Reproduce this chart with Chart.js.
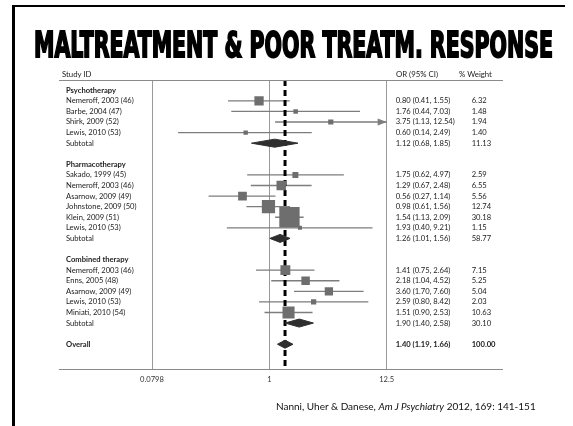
<!DOCTYPE html>
<html>
<head>
<meta charset="utf-8">
<script src="https://cdn.jsdelivr.net/npm/chart.js@4.4.1/dist/chart.umd.min.js"></script>
<style>
html,body{margin:0;padding:0;background:#fff;}
#wrap{position:relative;width:573px;height:426px;overflow:hidden;font-family:Lato,sans-serif;color:#222;}
#frameTop{position:absolute;left:12px;top:5px;width:553px;height:2px;background:#000;}
#frameLeft{position:absolute;left:12px;top:5px;width:3px;height:421px;background:#000;}
#title{position:absolute;left:34px;top:27px;font:bold 36px/36px 'DejaVu Sans Condensed',sans-serif;white-space:nowrap;transform-origin:0 0;-webkit-text-stroke:1.9px #000;color:#000;}
.hdr{position:absolute;top:69px;font-size:7.8px;line-height:10px;white-space:nowrap;}
#cite{position:absolute;left:276px;top:400px;font-size:10px;line-height:13px;white-space:nowrap;color:#111;}
canvas{position:absolute;left:0;top:0;}
</style>
</head>
<body>
<div id="wrap">
  <canvas id="forest" width="573" height="426"></canvas>
  <div id="frameTop"></div>
  <div id="frameLeft"></div>
  <div id="title">MALTREATMENT &amp; POOR TREATM. RESPONSE</div>
  <div class="hdr" style="left:62px">Study ID</div>
  <div class="hdr" style="left:396px">OR (95% CI)</div>
  <div class="hdr" style="left:459px">% Weight</div>
  <div id="cite">Nanni, Uher &amp; Danese, <i>Am J Psychiatry</i> 2012, 169: 141-151</div>
</div>
<script>
// rows of the forest plot, top to bottom
const rowLabels = [
  'Psychotherapy','Nemeroff, 2003 (46)','Barbe, 2004 (47)','Shirk, 2009 (52)','Lewis, 2010 (53)','Subtotal','',
  'Pharmacotherapy','Sakado, 1999 (45)','Nemeroff, 2003 (46)','Asarnow, 2009 (49)','Johnstone, 2009 (50)','Klein, 2009 (51)','Lewis, 2010 (53)','Subtotal','',
  'Combined therapy','Nemeroff, 2003 (46)','Enns, 2005 (48)','Asarnow, 2009 (49)','Lewis, 2010 (53)','Miniati, 2010 (54)','Subtotal','',
  'Overall'
];
const rowKind = [
  'group','study','study','study','study','sub','blank',
  'group','study','study','study','study','study','study','sub','blank',
  'group','study','study','study','study','study','sub','blank',
  'overall'
];
const orVal  = [null,0.80,1.76,3.75,0.60,1.12,null, null,1.75,1.29,0.56,0.98,1.54,1.93,1.26,null, null,1.41,2.18,3.60,2.59,1.51,1.90,null, 1.40];
const ciLow  = [null,0.41,0.44,1.13,0.14,0.68,null, null,0.62,0.67,0.27,0.61,1.13,0.40,1.01,null, null,0.75,1.04,1.70,0.80,0.90,1.40,null, 1.19];
const ciHigh = [null,1.55,7.03,12.54,2.49,1.85,null, null,4.97,2.48,1.14,1.56,2.09,9.21,1.56,null, null,2.64,4.52,7.60,8.42,2.53,2.58,null, 1.66];
const weights= [null,6.32,1.48,1.94,1.40,11.13,null, null,2.59,6.55,5.56,12.74,30.18,1.15,58.77,null, null,7.15,5.25,5.04,2.03,10.63,30.10,null, 100.00];
const xTicks = [0.0798, 1, 12.5];

const X_MIN = xTicks[0], X_MAX = xTicks[xTicks.length-1];
const Y_MIN = -0.97, Y_MAX = 26.37;
const FONT = 'Lato';

const rows = rowLabels.map((_, i) => i);
const studyIdx = rows.filter(i => rowKind[i] === 'study');
const pooledIdx = rows.filter(i => rowKind[i] === 'sub' || rowKind[i] === 'overall');
const overallIdx = rowKind.indexOf('overall');
const isBoldLabel = i => rowKind[i] === 'group' || rowKind[i] === 'overall';

// CI whiskers as one broken line
const ciData = [];
studyIdx.forEach(i => {
  ciData.push({x: ciLow[i], y: i}, {x: ciHigh[i], y: i}, {x: null, y: null});
});

const DIAMOND_H = 0.38;
const diamondSets = pooledIdx.map(i => ({
  type: 'line',
  data: [
    {x: ciLow[i], y: i}, {x: orVal[i], y: i - DIAMOND_H},
    {x: ciHigh[i], y: i}, {x: orVal[i], y: i + DIAMOND_H}, {x: ciLow[i], y: i}
  ],
  borderColor: '#2e2e2e', borderWidth: 1, backgroundColor: '#2e2e2e',
  fill: 'shape', pointRadius: 0, tension: 0, order: 1
}));

const rowTicks = s => { s.ticks = rows.map(v => ({value: v})); };
const tickFont = bold => ({family: FONT, size: 7.6, weight: bold ? 'bold' : 'normal'});

// arrows for CIs running past the axis, plus the header/bottom rules
const extras = {
  id: 'extras',
  afterDatasetsDraw(chart) {
    const {ctx, chartArea, scales: {y}} = chart;
    ctx.save();
    ctx.fillStyle = '#7d7d7d';
    studyIdx.forEach(i => {
      const py = y.getPixelForValue(i);
      if (ciHigh[i] > X_MAX) {
        const px = chartArea.right;
        ctx.beginPath();
        ctx.moveTo(px, py); ctx.lineTo(px - 9, py - 3.5); ctx.lineTo(px - 9, py + 3.5);
        ctx.closePath(); ctx.fill();
      }
      if (ciLow[i] < X_MIN) {
        const px = chartArea.left;
        ctx.beginPath();
        ctx.moveTo(px, py); ctx.lineTo(px + 9, py - 3.5); ctx.lineTo(px + 9, py + 3.5);
        ctx.closePath(); ctx.fill();
      }
    });
    ctx.strokeStyle = '#8a8a8a';
    ctx.lineWidth = 1;
    [chartArea.top, chartArea.bottom].forEach(py => {
      ctx.beginPath();
      ctx.moveTo(59, Math.round(py) + 0.5); ctx.lineTo(503, Math.round(py) + 0.5);
      ctx.stroke();
    });
    ctx.restore();
  }
};

new Chart(document.getElementById('forest'), {
  type: 'scatter',
  data: {
    datasets: [
      {
        type: 'scatter',
        data: studyIdx.map(i => ({x: orVal[i], y: i})),
        pointStyle: 'rect',
        pointRadius: studyIdx.map(i => 3.7 * Math.sqrt(weights[i]) / Math.SQRT2),
        pointHoverRadius: studyIdx.map(i => 3.7 * Math.sqrt(weights[i]) / Math.SQRT2),
        backgroundColor: '#6e6e6e', borderWidth: 0, order: 0
      },
      ...diamondSets,
      {
        type: 'line',
        data: [{x: orVal[overallIdx], y: Y_MIN}, {x: orVal[overallIdx], y: Y_MAX}],
        borderColor: '#000', borderWidth: 3, borderDash: [6, 4],
        pointRadius: 0, fill: false, order: 2
      },
      {
        type: 'line',
        data: ciData,
        borderColor: '#7d7d7d', borderWidth: 1.3,
        pointRadius: 0, fill: false, spanGaps: false, order: 3
      }
    ]
  },
  options: {
    responsive: false,
    animation: false,
    events: [],
    layout: {padding: {left: 66, top: 80, right: 66.3, bottom: 40.7}},
    plugins: {legend: {display: false}, tooltip: {enabled: false}},
    scales: {
      x: {
        type: 'logarithmic', min: X_MIN, max: X_MAX,
        afterBuildTicks: s => { s.ticks = xTicks.map(v => ({value: v})); },
        afterFit: s => { s.height = 16; },
        grid: {color: '#9a9a9a', lineWidth: 1, drawTicks: false},
        border: {display: false},
        ticks: {padding: 6, autoSkip: false, maxRotation: 0, color: '#333',
          font: {family: FONT, size: 7.6}, callback: v => String(v)}
      },
      y: {
        type: 'linear', reverse: true, min: Y_MIN, max: Y_MAX,
        afterBuildTicks: rowTicks,
        afterFit: s => { s.width = 86; },
        grid: {display: false, drawTicks: false}, border: {display: false},
        ticks: {crossAlign: 'far', padding: 0, autoSkip: false, color: '#222',
          font: c => tickFont(isBoldLabel(c.index)),
          callback: v => rowLabels[v]}
      },
      yOr: {
        type: 'linear', position: 'right', reverse: true, min: Y_MIN, max: Y_MAX,
        afterBuildTicks: rowTicks,
        afterFit: s => { s.width = 85; },
        grid: {display: false, drawTicks: false}, border: {display: false},
        ticks: {crossAlign: 'near', padding: 9, autoSkip: false, color: '#222',
          font: c => tickFont(c.index === overallIdx),
          callback: v => orVal[v] == null ? '' :
            orVal[v].toFixed(2) + ' (' + ciLow[v].toFixed(2) + ', ' + ciHigh[v].toFixed(2) + ')'}
      },
      yW: {
        type: 'linear', position: 'right', reverse: true, min: Y_MIN, max: Y_MAX,
        afterBuildTicks: rowTicks,
        afterFit: s => { s.width = 35; },
        grid: {display: false, drawTicks: false}, border: {display: false},
        ticks: {crossAlign: 'near', padding: 0, autoSkip: false, color: '#222',
          font: c => tickFont(c.index === overallIdx),
          callback: v => weights[v] == null ? '' : weights[v].toFixed(2)}
      }
    }
  },
  plugins: [extras]
});

// squeeze the heavy title to the slide width
const title = document.getElementById('title');
const tw = title.getBoundingClientRect().width;
title.style.transform = 'scaleX(' + (519 / tw) + ')';
</script>
</body>
</html>
